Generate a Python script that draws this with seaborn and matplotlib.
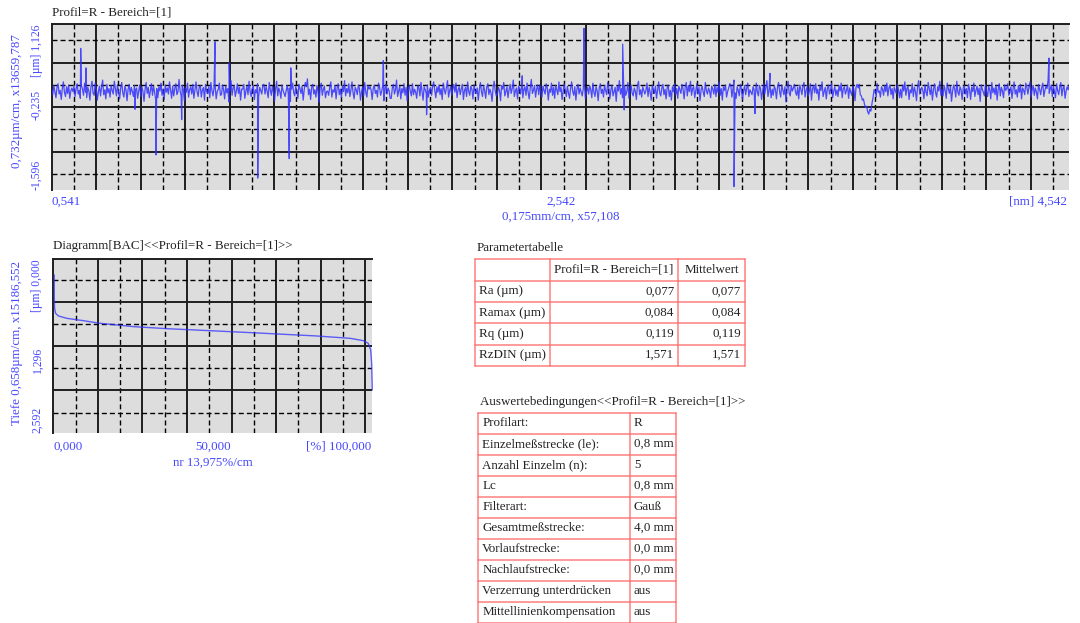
import numpy as np
import pandas as pd
import matplotlib
matplotlib.use("Agg")
import matplotlib.pyplot as plt
import seaborn as sns

# ---------------------------------------------------------------- data
# roughness profile R, sampled evenly between start and end (mm), heights in µm
profile_start_mm = 0.541
profile_end_mm = 4.542
profile_z = [
    0.05, -0.03, 0.12, 0.02, -0.08, 0.09, 0.15, -0.02, 0.04, -0.11, 0.07, 0.18, 0.01, -0.06, 0.10, -0.01, 0.13, -0.09, 0.03, 0.08,
    0.02, 0.11, -0.06, 0.07, 0.15, -0.02, 0.04, -0.09, 0.12, 0.06, -0.04, 0.16, 0.01, -0.08, 0.09, 0.03, -0.12, 0.10, 0.19, -0.01,
    -0.04, 0.16, 0.06, -0.12, 0.02, 0.11, -0.05, 0.09, 0.21, -0.03, 0.05, -0.10, 0.14, 0.00, 0.07, -0.07, 0.12, 0.04, -0.02, 0.19,
    0.07, -0.05, 0.13, 0.02, -0.10, 0.08, 0.17, 0.00, -0.07, 0.11, 0.05, -0.13, 0.06, 0.14, -0.03, 0.09, 0.02, -0.06, 0.12, 0.04,
    0.08, -0.09, 0.03, 0.13, -0.06, 0.10, 0.02, -0.14, 0.06, 0.17, -0.01, 0.09, -0.08, 0.04, 0.15, -0.04, 0.11, 0.01, -0.11, 0.07,
    -0.08, 0.10, 0.03, 0.16, -0.04, 0.06, -0.11, 0.13, 0.01, 0.08, -0.02, 0.18, 0.05, -0.09, 0.11, -0.05, 0.07, 0.15, -0.03, 0.02,
    0.22, 0.03, -0.05, 0.12, 0.06, -0.13, 0.08, 0.01, 0.16, -0.07, 0.05, 0.10, -0.02, 0.14, -0.09, 0.04, 0.18, 0.02, -0.06, 0.09,
    0.12, -0.07, 0.05, 0.09, -0.12, 0.14, 0.03, -0.01, 0.10, -0.08, 0.17, 0.04, -0.05, 0.08, 0.13, -0.10, 0.02, 0.06, 0.16, -0.04,
    -0.03, 0.13, 0.05, -0.10, 0.11, 0.00, 0.07, -0.15, 0.04, 0.20, -0.04, 0.08, 0.12, -0.06, 0.03, 0.15, -0.01, 0.09, -0.12, 0.06,
    0.06, 0.14, -0.09, 0.03, 0.11, -0.03, 0.19, 0.02, -0.06, 0.07, 0.12, -0.11, 0.05, 0.00, 0.15, -0.07, 0.09, 0.04, -0.02, 0.13,
    0.14, -0.02, 0.10, 0.03, -0.08, 0.17, 0.05, -0.04, 0.11, 0.01, -0.13, 0.07, 0.19, -0.05, 0.08, 0.02, -0.09, 0.13, 0.04, -0.01,
    -0.06, 0.04, 0.12, -0.02, 0.08, -0.14, 0.06, 0.16, 0.01, -0.05, 0.10, 0.03, -0.09, 0.14, 0.07, -0.01, 0.11, -0.12, 0.05, 0.17,
    0.10, 0.23, -0.03, 0.06, -0.11, 0.09, 0.14, -0.02, 0.05, -0.07, 0.12, 0.03, -0.16, 0.08, 0.16, -0.04, 0.06, 0.11, -0.08, 0.02,
    0.03, -0.04, 0.09, 0.18, -0.07, 0.05, 0.01, 0.12, -0.10, 0.08, 0.15, -0.03, 0.06, -0.08, 0.11, 0.02, 0.20, -0.05, 0.07, 0.00,
    0.15, -0.06, 0.04, 0.18, 0.00, -0.10, 0.09, 0.05, -0.03, 0.13, 0.07, -0.12, 0.02, 0.10, -0.05, 0.17, 0.01, -0.07, 0.12, 0.06,
    0.10, 0.05, -0.11, 0.07, 0.13, -0.01, 0.04, -0.07, 0.16, 0.09, -0.04, 0.02, 0.12, -0.13, 0.06, 0.14, -0.02, 0.08, 0.03, -0.09,
    -0.09, 0.08, 0.14, -0.02, 0.05, 0.21, -0.06, 0.03, 0.11, -0.10, 0.07, 0.00, 0.15, -0.04, 0.09, -0.13, 0.06, 0.12, 0.02, -0.05,
    0.15, -0.03, 0.06, 0.01, -0.09, 0.12, 0.08, -0.05, 0.17, 0.03, -0.12, 0.10, 0.05, -0.01, 0.13, -0.07, 0.04, 0.09, -0.04, 0.11,
    0.18, 0.04, -0.08, 0.10, 0.01, 0.13, -0.03, 0.07, -0.11, 0.16, 0.05, -0.02, 0.09, 0.20, -0.07, 0.03, 0.11, -0.04, 0.06, 0.14,
    0.01, 0.16, -0.08, 0.05, 0.10, -0.03, 0.07, 0.14, -0.11, 0.04, 0.09, -0.06, 0.18, 0.02, -0.04, 0.11, 0.06, -0.10, 0.13, 0.03,
    -0.01, 0.08, -0.12, 0.05, 0.17, 0.02, -0.06, 0.12, 0.04, -0.09, 0.10, 0.15, -0.03, 0.06, 0.00, -0.14, 0.09, 0.19, 0.03, -0.05,
    -0.02, 0.09, 0.04, -0.13, 0.12, 0.06, 0.17, -0.05, 0.02, 0.10, -0.08, 0.05, 0.14, -0.01, 0.07, 0.21, -0.06, 0.03, 0.08, -0.10,
    0.11, 0.07, -0.02, 0.14, -0.08, 0.05, 0.10, -0.04, 0.16, 0.01, -0.10, 0.08, 0.22, -0.01, 0.04, 0.12, -0.07, 0.06, 0.13, -0.03,
    0.13, 0.00, -0.07, 0.11, 0.04, -0.02, 0.15, 0.08, -0.12, 0.06, 0.01, 0.16, -0.04, 0.09, -0.09, 0.12, 0.05, -0.03, 0.18, 0.02,
    0.09, -0.11, 0.03, 0.15, 0.05, -0.06, 0.11, 0.00, -0.09, 0.07, 0.18, 0.02, -0.04, 0.10, -0.12, 0.06, 0.14, -0.02, 0.08, 0.01,
    -0.05, 0.07, 0.14, -0.10, 0.03, 0.09, -0.02, 0.12, 0.05, -0.08, 0.16, 0.01, -0.06, 0.10, 0.04, -0.13, 0.08, 0.15, -0.01, 0.06,
    -0.07, 0.12, 0.04, -0.03, 0.17, 0.08, -0.10, 0.05, 0.13, -0.05, 0.02, 0.09, -0.14, 0.11, 0.03, 0.20, -0.02, 0.07, -0.08, 0.10,
    0.11, -0.04, 0.02, 0.17, -0.09, 0.06, 0.13, 0.00, -0.05, 0.08, 0.03, -0.11, 0.12, 0.19, -0.03, 0.05, -0.07, 0.10, 0.04, -0.02,
    0.04, 0.16, -0.06, 0.09, 0.01, -0.12, 0.13, 0.06, -0.01, 0.11, -0.09, 0.05, 0.18, 0.00, -0.05, 0.08, 0.14, -0.03, 0.06, -0.10,
    0.08, 0.13, -0.06, 0.04, -0.12, 0.10, 0.02, 0.15, -0.03, 0.07, -0.09, 0.11, 0.05, -0.01, 0.14, 0.06, -0.10, 0.09, 0.17, -0.05,
    0.12, 0.02, 0.19, -0.04, 0.07, 0.10, -0.08, 0.03, 0.15, -0.02, 0.09, -0.13, 0.05, 0.11, 0.01, -0.06, 0.17, 0.04, -0.02, 0.08,
    0.03, -0.08, 0.11, 0.06, -0.02, 0.14, -0.06, 0.09, 0.01, 0.18, -0.04, 0.07, -0.12, 0.10, 0.04, 0.13, -0.07, 0.02, 0.08, 0.15,
    0.13, -0.07, 0.06, 0.21, 0.00, -0.09, 0.10, 0.04, -0.05, 0.14, 0.07, -0.11, 0.03, 0.12, -0.03, 0.08, 0.16, -0.06, 0.05, 0.01,
    -0.03, 0.10, 0.05, -0.09, 0.16, 0.02, -0.05, 0.12, 0.07, -0.11, 0.04, 0.14, -0.02, 0.09, 0.20, -0.06, 0.03, 0.11, -0.08, 0.06,
    -0.04, 0.11, 0.06, -0.10, 0.09, 0.17, 0.02, -0.07, 0.13, 0.05, -0.03, 0.10, -0.15, 0.07, 0.19, 0.00, -0.05, 0.12, 0.03, 0.08,
    0.14, 0.01, -0.04, 0.09, -0.10, 0.13, 0.06, -0.03, 0.11, 0.17, -0.07, 0.04, 0.10, -0.05, 0.02, 0.15, -0.12, 0.07, 0.12, 0.00,
    0.15, -0.01, 0.06, -0.12, 0.11, 0.04, 0.18, -0.06, 0.02, 0.09, -0.10, 0.07, 0.13, -0.02, 0.05, 0.16, -0.08, 0.03, 0.10, -0.04,
    0.05, -0.06, 0.12, 0.03, 0.16, -0.08, 0.07, 0.10, -0.02, 0.04, 0.13, -0.09, 0.08, 0.01, -0.04, 0.11, 0.06, -0.13, 0.09, 0.14,
    0.08, 0.14, -0.03, -0.05, -0.12, -0.10, -0.19, -0.24, -0.22, -0.31, -0.35, -0.27, -0.30, -0.18, -0.08, 0.05, 0.04, -0.07, 0.15, 0.01,
    0.03, -0.07, 0.10, 0.06, -0.04, 0.12, 0.02, 0.16, -0.05, 0.08, 0.13, -0.03, 0.07, -0.10, 0.09, 0.04, -0.01, 0.14, 0.05, -0.08,
    0.06, -0.08, 0.13, 0.03, 0.18, -0.04, 0.07, 0.11, -0.11, 0.05, 0.00, 0.15, -0.06, 0.09, 0.02, -0.13, 0.10, 0.20, -0.02, 0.06,
    0.09, 0.04, -0.10, 0.13, 0.01, -0.05, 0.17, 0.07, -0.03, 0.11, -0.12, 0.06, 0.15, 0.00, -0.07, 0.10, 0.03, 0.19, -0.04, 0.05,
    -0.05, 0.12, 0.04, -0.09, 0.16, 0.07, -0.01, 0.11, -0.14, 0.03, 0.13, 0.06, -0.07, 0.19, 0.01, -0.04, 0.10, 0.05, -0.11, 0.08,
    0.12, -0.02, 0.07, -0.08, 0.14, 0.05, -0.11, 0.09, 0.02, 0.16, -0.06, 0.04, 0.11, -0.03, 0.08, -0.14, 0.13, 0.06, 0.01, -0.05,
    0.14, 0.02, -0.06, 0.11, 0.05, -0.10, 0.17, 0.00, 0.08, -0.03, 0.12, -0.12, 0.06, 0.15, -0.05, 0.09, 0.03, -0.08, 0.13, 0.04,
    0.07, 0.15, -0.04, 0.03, 0.10, -0.09, 0.06, 0.18, -0.02, 0.05, -0.07, 0.12, 0.01, 0.14, -0.10, 0.08, 0.04, -0.03, 0.16, 0.09,
    -0.02, 0.10, 0.18, -0.07, 0.05, 0.12, -0.04, 0.08, 0.01, -0.10, 0.14, 0.06, -0.03, 0.09, 0.16, -0.06, 0.04, 0.11, 0.07, 0.21,
    -0.01, 0.06, 0.13, -0.06, 0.11, 0.02, -0.08, 0.15, 0.04, -0.03, 0.09, 0.17, -0.05, 0.07, 0.12, -0.09, 0.03, 0.10, 0.05, 0.14,
]
# isolated peaks and valleys of the profile (position in mm, height in µm)
spike_x_mm = [0.655, 0.676, 0.869, 0.951, 1.052, 1.183, 1.239, 1.351, 1.475, 1.481,
              1.845, 2.015, 2.391, 2.634, 2.786, 2.792, 3.224, 3.306, 3.365, 4.462]
spike_z = [0.73, 0.41, -0.27, -1.02, -0.44, 0.84, 0.49, -1.40, -1.08, 0.41,
           0.53, -0.36, 0.28, 1.06, 0.80, -0.28, -1.54, -0.34, 0.32, 0.57]

# bearing area (Abbott) curve: material ratio in %, depth in µm
bac_ratio = [0.3, 0.3, 0.4, 0.7, 1.6, 4.2, 9.4, 14.6, 25.1, 35.5, 48.9,
             61.7, 72.1, 82.5, 93.0, 97.2, 98.7, 99.5, 99.8, 100.0]
bac_depth = [0.233, 0.556, 0.730, 0.804, 0.844, 0.879, 0.914, 0.953, 1.003, 1.033, 1.063,
             1.092, 1.117, 1.142, 1.177, 1.212, 1.251, 1.350, 1.549, 1.946]

# axis ranges and labels
prof_x_ticks = [0.541, 2.542, 4.542]
prof_x_labels = ["0,541", "2,542", "[nm] 4,542"]
prof_y_ticks = [1.126, -0.235, -1.596]
prof_y_labels = ["[µm] 1,126", "-0,235", "-1,596"]
prof_x_step = 0.175   # mm per cm of plot
prof_y_step = 0.732   # µm per cm of plot

bac_x_ticks = [0.0, 50.0, 100.0]
bac_x_labels = ["0,000", "50,000", "[%] 100,000"]
bac_y_ticks = [0.0, 1.296, 2.592]
bac_y_labels = ["[µm] 0,000", "1,296", "2,592"]
bac_x_step = 13.975   # % per cm
bac_y_step = 0.658    # µm per cm

# parameter table
param_header = ["", "Profil=R - Bereich=[1]", "Mittelwert"]
param_names = ["Ra (µm)", "Ramax (µm)", "Rq (µm)", "RzDIN (µm)"]
param_profile = [0.077, 0.084, 0.119, 1.571]
param_mean = [0.077, 0.084, 0.119, 1.571]

# evaluation conditions
cond_names = ["Profilart:", "Einzelmeßstrecke (le):", "Anzahl Einzelm (n):", "Lc", "Filterart:",
              "Gesamtmeßstrecke:", "Vorlaufstrecke:", "Nachlaufstrecke:",
              "Verzerrung unterdrücken", "Mittellinienkompensation"]
cond_values = ["R", "0,8 mm", "5", "0,8 mm", "Gauß", "4,0 mm", "0,0 mm", "0,0 mm", "aus", "aus"]

# ---------------------------------------------------------------- style
sns.set_style("white")
plt.rcParams["font.family"] = ["Liberation Serif", "DejaVu Serif"]
plt.rcParams["lines.scale_dashes"] = False

FS = 9.4          # general text
FS_TICK_Y = 8.4   # rotated tick labels on the value axes
LINE_BLUE = "#3030ff"
TEXT_BLUE = "#4646ff"
PANEL_GRAY = "#dddddd"
GRID_DARK = "#1e1e1e"
TABLE_RED = "#ff6a6a"
TEXT_DARK = "#222222"

W, H = 1080, 623
fig = plt.figure(figsize=(W / 100, H / 100), dpi=100)


def px_rect(x0, y0, x1, y1):
    return [x0 / W, 1 - y1 / H, (x1 - x0) / W, (y1 - y0) / H]


def comma(v, nd=3):
    return f"{v:.{nd}f}".replace(".", ",")


def draw_grid(ax, x_lo, x_hi, y_lo, y_hi, x0, xs, y0, ys):
    """solid lines every cm, dashed lines every half cm, anchored at x0 / y0"""
    kx = np.arange(np.floor((x_lo - x0) / xs) - 1, np.ceil((x_hi - x0) / xs) + 2)
    ky = np.arange(np.floor((y_lo - y0) / ys) - 1, np.ceil((y_hi - y0) / ys) + 2)
    for k in kx:
        for v, solid in ((x0 + k * xs, True), (x0 + (k + 0.5) * xs, False)):
            if x_lo < v < x_hi:
                ax.axvline(v, color=GRID_DARK if solid else "black",
                           lw=1.4 if solid else 1.0,
                           ls="-" if solid else (0, (3.6, 2.2)), zorder=1)
    for k in ky:
        for v, solid in ((y0 + k * ys, True), (y0 + (k + 0.5) * ys, False)):
            if y_lo < v < y_hi:
                ax.axhline(v, color=GRID_DARK if solid else "black",
                           lw=1.4 if solid else 1.0,
                           ls="-" if solid else (0, (3.6, 2.2)), zorder=1)


def style_axes(ax):
    ax.set_facecolor(PANEL_GRAY)
    for side in ("right", "bottom"):
        ax.spines[side].set_visible(False)
    for side in ("left", "top"):
        ax.spines[side].set_color(GRID_DARK)
        ax.spines[side].set_linewidth(1.4)
    ax.tick_params(axis="both", direction="out", length=3.5, width=1.4,
                   color=TEXT_BLUE, labelleft=False, labelbottom=False)
    ax.set_xlabel("")
    ax.set_ylabel("")


def y_label(ax, val, text, va, dy=0, dx=-9):
    ax.annotate(text, xy=(0, val), xycoords=ax.get_yaxis_transform(),
                xytext=(dx, dy), textcoords="offset pixels", rotation=90,
                ha="right", va=va, color=TEXT_BLUE, fontsize=FS_TICK_Y)


def x_label(ax, val, text, ha, dy, dx=0):
    ax.annotate(text, xy=(val, 0), xycoords=ax.get_xaxis_transform(),
                xytext=(dx, dy), textcoords="offset pixels",
                ha=ha, va="center", color=TEXT_BLUE, fontsize=FS)


# ---------------------------------------------------------------- profile chart
ax1 = fig.add_axes(px_rect(51.7, 24.3, 1069.3, 190.0))
profile_x = np.linspace(profile_start_mm, profile_end_mm, len(profile_z))
prof = pd.concat([
    pd.DataFrame({"x": profile_x, "z": profile_z}),
    pd.DataFrame({"x": spike_x_mm, "z": spike_z}),
]).sort_values("x").reset_index(drop=True)
sns.lineplot(data=prof, x="x", y="z", sort=True, estimator=None, ax=ax1,
             color=LINE_BLUE, lw=0.9, alpha=0.85, zorder=3)
ax1.set_xlim(prof_x_ticks[0], prof_x_ticks[-1])
ax1.set_ylim(prof_y_ticks[-1], prof_y_ticks[0])
draw_grid(ax1, prof_x_ticks[0], prof_x_ticks[-1], prof_y_ticks[-1], prof_y_ticks[0],
          prof_x_ticks[0], prof_x_step, prof_y_ticks[1], prof_y_step)
style_axes(ax1)
ax1.set_xticks(prof_x_ticks)
ax1.set_yticks(prof_y_ticks)

y_label(ax1, prof_y_ticks[0], prof_y_labels[0], "top")
y_label(ax1, prof_y_ticks[1], prof_y_labels[1], "center", dy=2)
y_label(ax1, prof_y_ticks[2], prof_y_labels[2], "bottom")
x_label(ax1, prof_x_ticks[0], prof_x_labels[0], "left", -12)
x_label(ax1, prof_x_ticks[1], prof_x_labels[1], "center", -12)
x_label(ax1, prof_x_ticks[2], prof_x_labels[2], "right", -12, dx=-2)

fig.text(17.5 / W, 1 - 101 / H, "0,732µm/cm, x13659,787", rotation=90,
         ha="center", va="center", color=TEXT_BLUE, fontsize=FS)
fig.text(560.5 / W, 1 - 216.7 / H, "0,175mm/cm, x57,108",
         ha="center", va="center", color=TEXT_BLUE, fontsize=FS)
fig.text(52 / W, 1 - 12.8 / H, "Profil=R - Bereich=[1]",
         ha="left", va="center", color=TEXT_DARK, fontsize=FS)

# ---------------------------------------------------------------- bearing area curve
ax2 = fig.add_axes(px_rect(53.3, 259.3, 372.3, 433.3))
bac = pd.DataFrame({"ratio": bac_ratio, "depth": bac_depth})
sns.lineplot(data=bac, x="ratio", y="depth", sort=False, estimator=None, ax=ax2,
             color=LINE_BLUE, lw=1.0, alpha=0.75, zorder=3, clip_on=False)
ax2.set_xlim(bac_x_ticks[0], bac_x_ticks[-1])
ax2.set_ylim(bac_y_ticks[-1], bac_y_ticks[0])
draw_grid(ax2, bac_x_ticks[0], bac_x_ticks[-1], bac_y_ticks[0], bac_y_ticks[-1],
          bac_x_ticks[0], bac_x_step, bac_y_ticks[1], bac_y_step)
style_axes(ax2)
ax2.set_xticks(bac_x_ticks)
ax2.set_yticks(bac_y_ticks)

y_label(ax2, bac_y_ticks[0], bac_y_labels[0], "top", dx=-10)
y_label(ax2, bac_y_ticks[1], bac_y_labels[1], "top", dx=-10)
y_label(ax2, bac_y_ticks[2], bac_y_labels[2], "bottom", dx=-10)
x_label(ax2, bac_x_ticks[0], bac_x_labels[0], "left", -13.4)
x_label(ax2, bac_x_ticks[1], bac_x_labels[1], "center", -13.4)
x_label(ax2, bac_x_ticks[2], bac_x_labels[2], "right", -13.4, dx=-1)

fig.text(17.5 / W, 1 - 343.5 / H, "Tiefe 0,658µm/cm, x15186,552", rotation=90,
         ha="center", va="center", color=TEXT_BLUE, fontsize=FS)
fig.text(212.8 / W, 1 - 463 / H, "nr 13,975%/cm",
         ha="center", va="center", color=TEXT_BLUE, fontsize=FS)
fig.text(53.3 / W, 1 - 246 / H, "Diagramm[BAC]<<Profil=R - Bereich=[1]>>",
         ha="left", va="center", color=TEXT_DARK, fontsize=FS)

# ---------------------------------------------------------------- tables
tab = fig.add_axes([0, 0, 1, 1])
tab.set_xlim(0, W)
tab.set_ylim(H, 0)
tab.axis("off")


def draw_table(x0, y0, col_w, row_h, rows, aligns):
    n = len(rows)
    edges_x = np.concatenate([[x0], x0 + np.cumsum(col_w)])
    edges_y = y0 + np.arange(n + 1) * row_h
    for yy in edges_y:
        tab.plot([edges_x[0], edges_x[-1]], [yy, yy], color=TABLE_RED, lw=1.1, alpha=0.85)
    for xx in edges_x:
        tab.plot([xx, xx], [edges_y[0], edges_y[-1]], color=TABLE_RED, lw=1.1, alpha=0.85)
    for r, row in enumerate(rows):
        yc = y0 + (r + 0.5) * row_h
        for c, txt in enumerate(row):
            al = aligns[r][c]
            if al == "left":
                xx = edges_x[c] + 4
            elif al == "right":
                xx = edges_x[c + 1] - 4
            else:
                xx = (edges_x[c] + edges_x[c + 1]) / 2
            tab.text(xx, yc, txt, ha=al, va="center", color=TEXT_DARK, fontsize=FS)


fig.text(476.7 / W, 1 - 248 / H, "Parametertabelle",
         ha="left", va="center", color=TEXT_DARK, fontsize=FS)
param_rows = [param_header] + [[n, comma(a), comma(b)]
                               for n, a, b in zip(param_names, param_profile, param_mean)]
param_align = [["left", "center", "center"]] + [["left", "right", "right"]] * len(param_names)
draw_table(475, 259.3, [75, 128.3, 66.7], 21.3, param_rows, param_align)

fig.text(480 / W, 1 - 402.5 / H, "Auswertebedingungen<<Profil=R - Bereich=[1]>>",
         ha="left", va="center", color=TEXT_DARK, fontsize=FS)
cond_rows = [[n, v] for n, v in zip(cond_names, cond_values)]
draw_table(478.3, 412.7, [151.7, 46], 21.0, cond_rows, [["left", "left"]] * len(cond_rows))

fig.savefig("out.png", dpi=100)
